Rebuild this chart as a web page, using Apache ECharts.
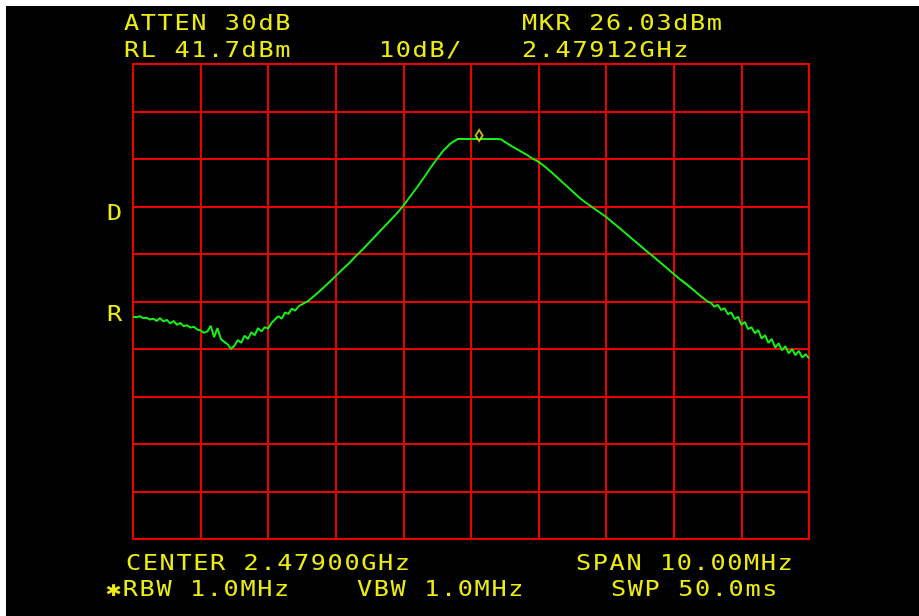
<!DOCTYPE html>
<html>
<head>
<meta charset="utf-8">
<script src="https://cdn.jsdelivr.net/npm/echarts@6/dist/echarts.min.js"></script>
<style>
  html, body { margin: 0; padding: 0; background: #000; }
  #chart { width: 919px; height: 616px; }
</style>
</head>
<body>
<div id="chart"></div>
<script>
// Spectrum analyzer settings
const CENTER_MHZ = 2479.0;
const SPAN_MHZ = 10;
const REF_LEVEL_DBM = 41.7;
const DB_PER_DIV = 10;
const DIVISIONS = 10;

// Trace: frequency offset from centre (MHz) and measured level (dBm)
const offsetMHz = [
  -5.00, -4.95, -4.90, -4.85, -4.80, -4.75, -4.70, -4.65, -4.60, -4.55,
  -4.50, -4.45, -4.40, -4.35, -4.30, -4.25, -4.20, -4.15, -4.10, -4.05,
  -4.00, -3.95, -3.90, -3.85, -3.80, -3.75, -3.70, -3.65, -3.60, -3.55,
  -3.50, -3.45, -3.40, -3.35, -3.30, -3.25, -3.20, -3.15, -3.10, -3.05,
  -3.00, -2.95, -2.90, -2.85, -2.80, -2.75, -2.70, -2.65, -2.60, -2.55,
  -2.50, -2.40, -2.30, -2.20, -2.10, -2.00, -1.90, -1.80, -1.70, -1.60,
  -1.50, -1.40, -1.30, -1.20, -1.10, -1.00, -0.90, -0.80, -0.70, -0.60,
  -0.50, -0.40, -0.30, -0.20, -0.10, 0.00, 0.10, 0.20, 0.30, 0.40,
  0.45, 0.50, 0.60, 0.70, 0.80, 0.90, 1.00, 1.10, 1.20, 1.30,
  1.40, 1.50, 1.60, 1.70, 1.80, 1.90, 2.00, 2.10, 2.20, 2.30,
  2.40, 2.50, 2.60, 2.70, 2.80, 2.90, 3.00, 3.10, 3.20, 3.30,
  3.40, 3.50, 3.55, 3.60, 3.65, 3.70, 3.75, 3.80, 3.85, 3.90,
  3.95, 4.00, 4.05, 4.10, 4.15, 4.20, 4.25, 4.30, 4.35, 4.40,
  4.45, 4.50, 4.55, 4.60, 4.65, 4.70, 4.75, 4.80, 4.85, 4.90,
  4.95, 5.00
];
const levelDbm = [
  -11.5, -11.6, -11.4, -11.8, -11.7, -12.1, -11.9, -12.4, -11.8, -12.5,
  -12.2, -12.9, -12.4, -13.2, -12.8, -13.5, -13.3, -13.8, -13.6, -14.2,
  -14.4, -14.9, -14.6, -13.4, -15.8, -13.9, -16.2, -16.8, -17.3, -18.3,
  -17.6, -16.4, -17.0, -15.5, -16.2, -14.8, -15.4, -13.9, -14.6, -13.7,
  -14.0, -12.8, -12.1, -11.4, -11.9, -10.6, -10.9, -9.8, -10.2, -9.3,
  -8.9, -8.1, -6.9, -5.6, -4.3, -2.9, -1.5, -0.2, 1.3, 2.7,
  4.2, 5.7, 7.2, 8.7, 10.2, 11.9, 13.8, 15.7, 17.7, 19.8,
  21.8, 23.6, 25.0, 25.9, 25.9, 25.9, 25.9, 25.9, 25.9, 25.9,
  25.8, 25.3, 24.4, 23.6, 22.8, 21.9, 21.1, 20.0, 18.8, 17.5,
  16.2, 14.9, 13.6, 12.5, 11.5, 10.5, 9.5, 8.3, 7.1, 5.9,
  4.7, 3.5, 2.3, 1.1, -0.1, -1.3, -2.5, -3.7, -4.8, -6.0,
  -7.2, -8.3, -8.6, -9.4, -9.0, -10.1, -9.7, -11.0, -10.6, -12.0,
  -11.5, -13.2, -12.6, -14.1, -13.7, -15.0, -14.3, -16.1, -15.4, -17.0,
  -16.2, -18.0, -17.1, -18.6, -17.7, -19.2, -18.3, -19.6, -18.7, -20.1,
  -19.4, -20.3
];

// Marker readout
const markerFreqMHz = 2479.12;
const markerLevelDbm = 26.03;

// Annotation rows: text, left x, centre y
const headerRows = [
  ['ATTEN 30dB', 125, 25],
  ['MKR 26.03dBm', 523, 25],
  ['RL 41.7dBm', 125, 52],
  ['10dB/', 380, 52],
  ['2.47912GHz', 523, 52]
];
const footerRows = [
  ['CENTER 2.47900GHz', 127, 565],
  ['SPAN 10.00MHz', 577, 565],
  ['\u2731RBW 1.0MHz', 107, 591],
  ['VBW 1.0MHz', 358, 591],
  ['SWP 50.0ms', 612, 591]
];
const sideLabels = [
  ['D', 108, 215],
  ['R', 108, 316]
];

const YELLOW = '#ecec10';
const GRID_RED = '#ee0000';
const TRACE_GREEN = '#16ee16';
const CHAR_PITCH = 16.8;

function charRow(str, x, y) {
  const els = [];
  Array.from(str).forEach((ch, i) => {
    if (ch === ' ') return;
    els.push({
      type: 'text',
      x: x - 1 + i * CHAR_PITCH,
      y: y,
      scaleX: 1.2,
      silent: true,
      style: {
        text: ch,
        x: 0, y: 0,
        fill: YELLOW,
        font: '21px "DejaVu Sans Mono"',
        textAlign: 'left',
        textVerticalAlign: 'middle'
      }
    });
  });
  return els;
}

const traceData = offsetMHz.map((o, i) => [CENTER_MHZ + o, levelDbm[i]]);

const graphics = [
  { type: 'rect', shape: { x: 0, y: 0, width: 919, height: 6 }, style: { fill: '#fff' }, z: -10, silent: true },
  { type: 'rect', shape: { x: 0, y: 0, width: 6, height: 616 }, style: { fill: '#fff' }, z: -10, silent: true }
];
[...headerRows, ...footerRows, ...sideLabels].forEach(r => graphics.push(...charRow(r[0], r[1], r[2])));

const chart = echarts.init(document.getElementById('chart'), null, { renderer: 'canvas' });
chart.setOption({
  backgroundColor: '#000',
  animation: false,
  grid: {
    left: 133, top: 64, width: 676, height: 475,
    show: true, borderColor: GRID_RED, borderWidth: 2, backgroundColor: 'transparent'
  },
  xAxis: {
    type: 'value',
    min: CENTER_MHZ - SPAN_MHZ / 2,
    max: CENTER_MHZ + SPAN_MHZ / 2,
    interval: SPAN_MHZ / DIVISIONS,
    axisLine: { show: false }, axisTick: { show: false }, axisLabel: { show: false },
    splitLine: { show: true, lineStyle: { color: GRID_RED, width: 2 } }
  },
  yAxis: [
    {
      type: 'value',
      min: REF_LEVEL_DBM - DB_PER_DIV * DIVISIONS,
      max: REF_LEVEL_DBM,
      show: false,
      splitLine: { show: false }
    },
    {
      type: 'value',
      min: 0, max: DIVISIONS, interval: 1,
      position: 'right',
      axisLine: { show: false }, axisTick: { show: false }, axisLabel: { show: false },
      splitLine: { show: true, lineStyle: { color: GRID_RED, width: 2 } }
    }
  ],
  series: [
    {
      type: 'line',
      yAxisIndex: 0,
      data: traceData,
      showSymbol: false,
      lineStyle: { color: TRACE_GREEN, width: 2 },
      z: 5
    },
    {
      type: 'scatter',
      yAxisIndex: 0,
      data: [[markerFreqMHz, markerLevelDbm]],
      symbol: 'diamond',
      symbolSize: [7, 11],
      symbolOffset: [0, -3],
      itemStyle: { color: '#000', borderColor: YELLOW, borderWidth: 2 },
      z: 6
    }
  ],
  graphic: graphics
});
</script>
</body>
</html>
